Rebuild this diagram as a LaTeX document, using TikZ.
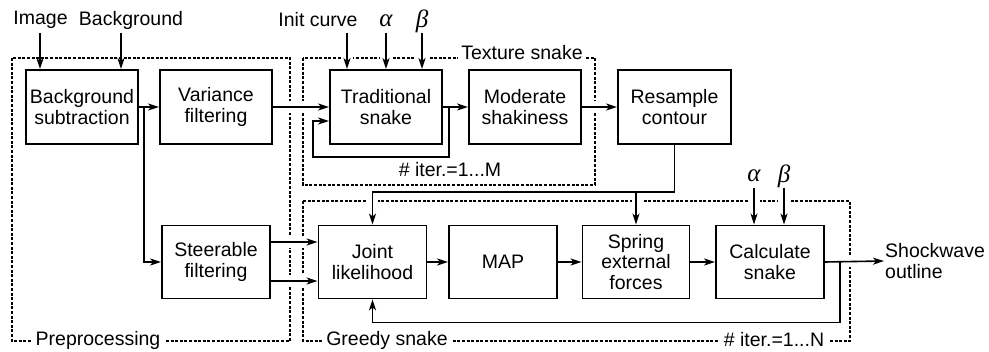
\documentclass[tikz,border=0pt]{standalone}
\usepackage{fontspec}
\setmainfont{Liberation Sans}
\newfontfamily\grkfont{Liberation Serif}
\usetikzlibrary{arrows.meta,calc}
\newcommand{\myfs}{\fontsize{19.5}{20.5}\selectfont}
\newcommand{\mygr}{\fontsize{25}{25}\selectfont\grkfont\itshape}
\begin{document}
\begin{tikzpicture}[x=1pt,y=-1pt,
  box/.style={draw,line width=1.9pt,minimum width=112pt,minimum height=74pt,align=center,inner sep=0pt,font=\myfs},
  dbox/.style={draw,line width=1.1pt,dash pattern=on 3pt off 1.6pt},
  conn/.style={line width=1.6pt,-{Stealth[length=11pt,width=7pt,inset=3pt]}},
  lbl/.style={inner sep=0pt,font=\myfs},
  grk/.style={inner sep=0pt,font=\mygr},
  gapw/.style={fill=white,draw=none}
]
\useasboundingbox (0,0) rectangle (989,352);

% dashed groups
\draw[dbox] (12,58) rectangle (290,341);
\draw[dbox] (303,58) rectangle (595,185);
\draw[dbox] (303,201) rectangle (850,341);

% gaps where connectors cross the dashed lines
\foreach \x in {347,386,422} {\fill[gapw] (\x-6,55) rectangle (\x+6,61);}
\foreach \x in {372,638,754,784} {\fill[gapw] (\x-6,198) rectangle (\x+6,204);}
\foreach \x/\y in {290/107,303/107,290/242,303/242,290/281,303/281,595/107,850/261}
  {\fill[gapw] (\x-3,\y-6) rectangle (\x+3,\y+6);}

% group labels
\node[lbl,fill=white,inner xsep=3pt,inner ysep=2pt,anchor=base] (tsl) at (522,60) {Texture snake};
\node[lbl,fill=white,inner xsep=4pt,inner ysep=2pt] (ppl) at (98,340) {Preprocessing};
\node[lbl,fill=white,inner xsep=4pt,inner ysep=2pt] (gsl) at (387,340) {Greedy snake};
\node[lbl,fill=white,inner xsep=4pt,inner ysep=2pt] (itn) at (774,340) {\#~iter.=1...N};
\node[lbl] (itm) at (450,170) {\#~iter.=1...M};

% boxes
\node[box] (bs) at (82,107) {Background\\subtraction};
\node[box] (var) at (216,107) {Variance\\filtering};
\node[box] (trad) at (386,107) {Traditional\\snake};
\node[box] (mod) at (525,107) {Moderate\\shakiness};
\node[box,minimum width=113pt] (res) at (674.5,107) {Resample\\contour};
\node[box,minimum width=108pt,minimum height=73pt] (st) at (216,262) {Steerable\\filtering};
\node[box,minimum width=108pt,minimum height=73pt] (jl) at (372.5,262) {Joint\\likelihood};
\node[box,minimum width=108pt,minimum height=73pt] (map) at (503,262) {MAP};
\node[box,minimum width=107pt,minimum height=73pt] (sp) at (636,262) {Spring\\external\\forces};
\node[box,minimum width=108pt,minimum height=73pt] (calc) at (770,262) {Calculate\\snake};

% input texts
\node[lbl] (img) at (40.5,20) {Image};
\node[lbl] (bg) at (131,20) {Background};
\node[lbl] (ic) at (318,20) {Init curve};
\node[grk] (a1) at (386,21) {α};
\node[grk] (b1) at (422,21) {β};
\node[grk] (a2) at (754,176) {α};
\node[grk] (b2) at (784,176) {β};
\node[lbl,align=left,anchor=west,inner sep=1pt] (so) at (884,261) {Shockwave\\outline};

% arrow start points
\coordinate (ia) at (40,33);
\coordinate (ba) at (121,33);
\coordinate (ica) at (347,33);
\coordinate (a1a) at (386,33);
\coordinate (b1a) at (422,33);
\coordinate (a2a) at (754,188);
\coordinate (b2a) at (784,188);
\coordinate (br) at (144,107);
\coordinate (lp) at (449,107);
\coordinate (hy) at (0,192);
\coordinate (fb) at (840,262);

% connectors
\draw[conn] (ia) -- (ia |- bs.north);
\draw[conn] (ba) -- (ba |- bs.north);
\draw[conn] (ica) -- (ica |- trad.north);
\draw[conn] (a1a) -- (a1a |- trad.north);
\draw[conn] (b1a) -- (b1a |- trad.north);
\draw[conn] (a2a) -- (a2a |- calc.north);
\draw[conn] (b2a) -- (b2a |- calc.north);

\draw[conn] (bs.east) -- (var.west);
\draw[conn] (br) |- (st.west);
\draw[conn] (var.east) -- (trad.west);
\draw[conn] (lp) -- ($(lp)+(0,50)$) -| ($(trad.west)+(-16,14)$) -- ($(trad.west)+(0,14)$);
\draw[conn] (trad.east) -- (mod.west);
\draw[conn] (mod.east) -- (res.west);
\draw[conn] (res.south) |- (jl.north |- hy) -- (jl.north);
\draw[conn] (sp.north |- hy) -- (sp.north);
\draw[conn] ($(st.east)+(0,-20)$) -- ($(jl.west)+(0,-20)$);
\draw[conn] ($(st.east)+(0,19)$) -- ($(jl.west)+(0,19)$);
\draw[conn] (jl.east) -- (map.west);
\draw[conn] (map.east) -- (sp.west);
\draw[conn] (sp.east) -- (calc.west);
\draw[conn] (calc.east) -- (so.west);
\draw[conn] (fb) |- ($(jl.south)+(0,23)$) -- (jl.south);
\end{tikzpicture}
\end{document}
